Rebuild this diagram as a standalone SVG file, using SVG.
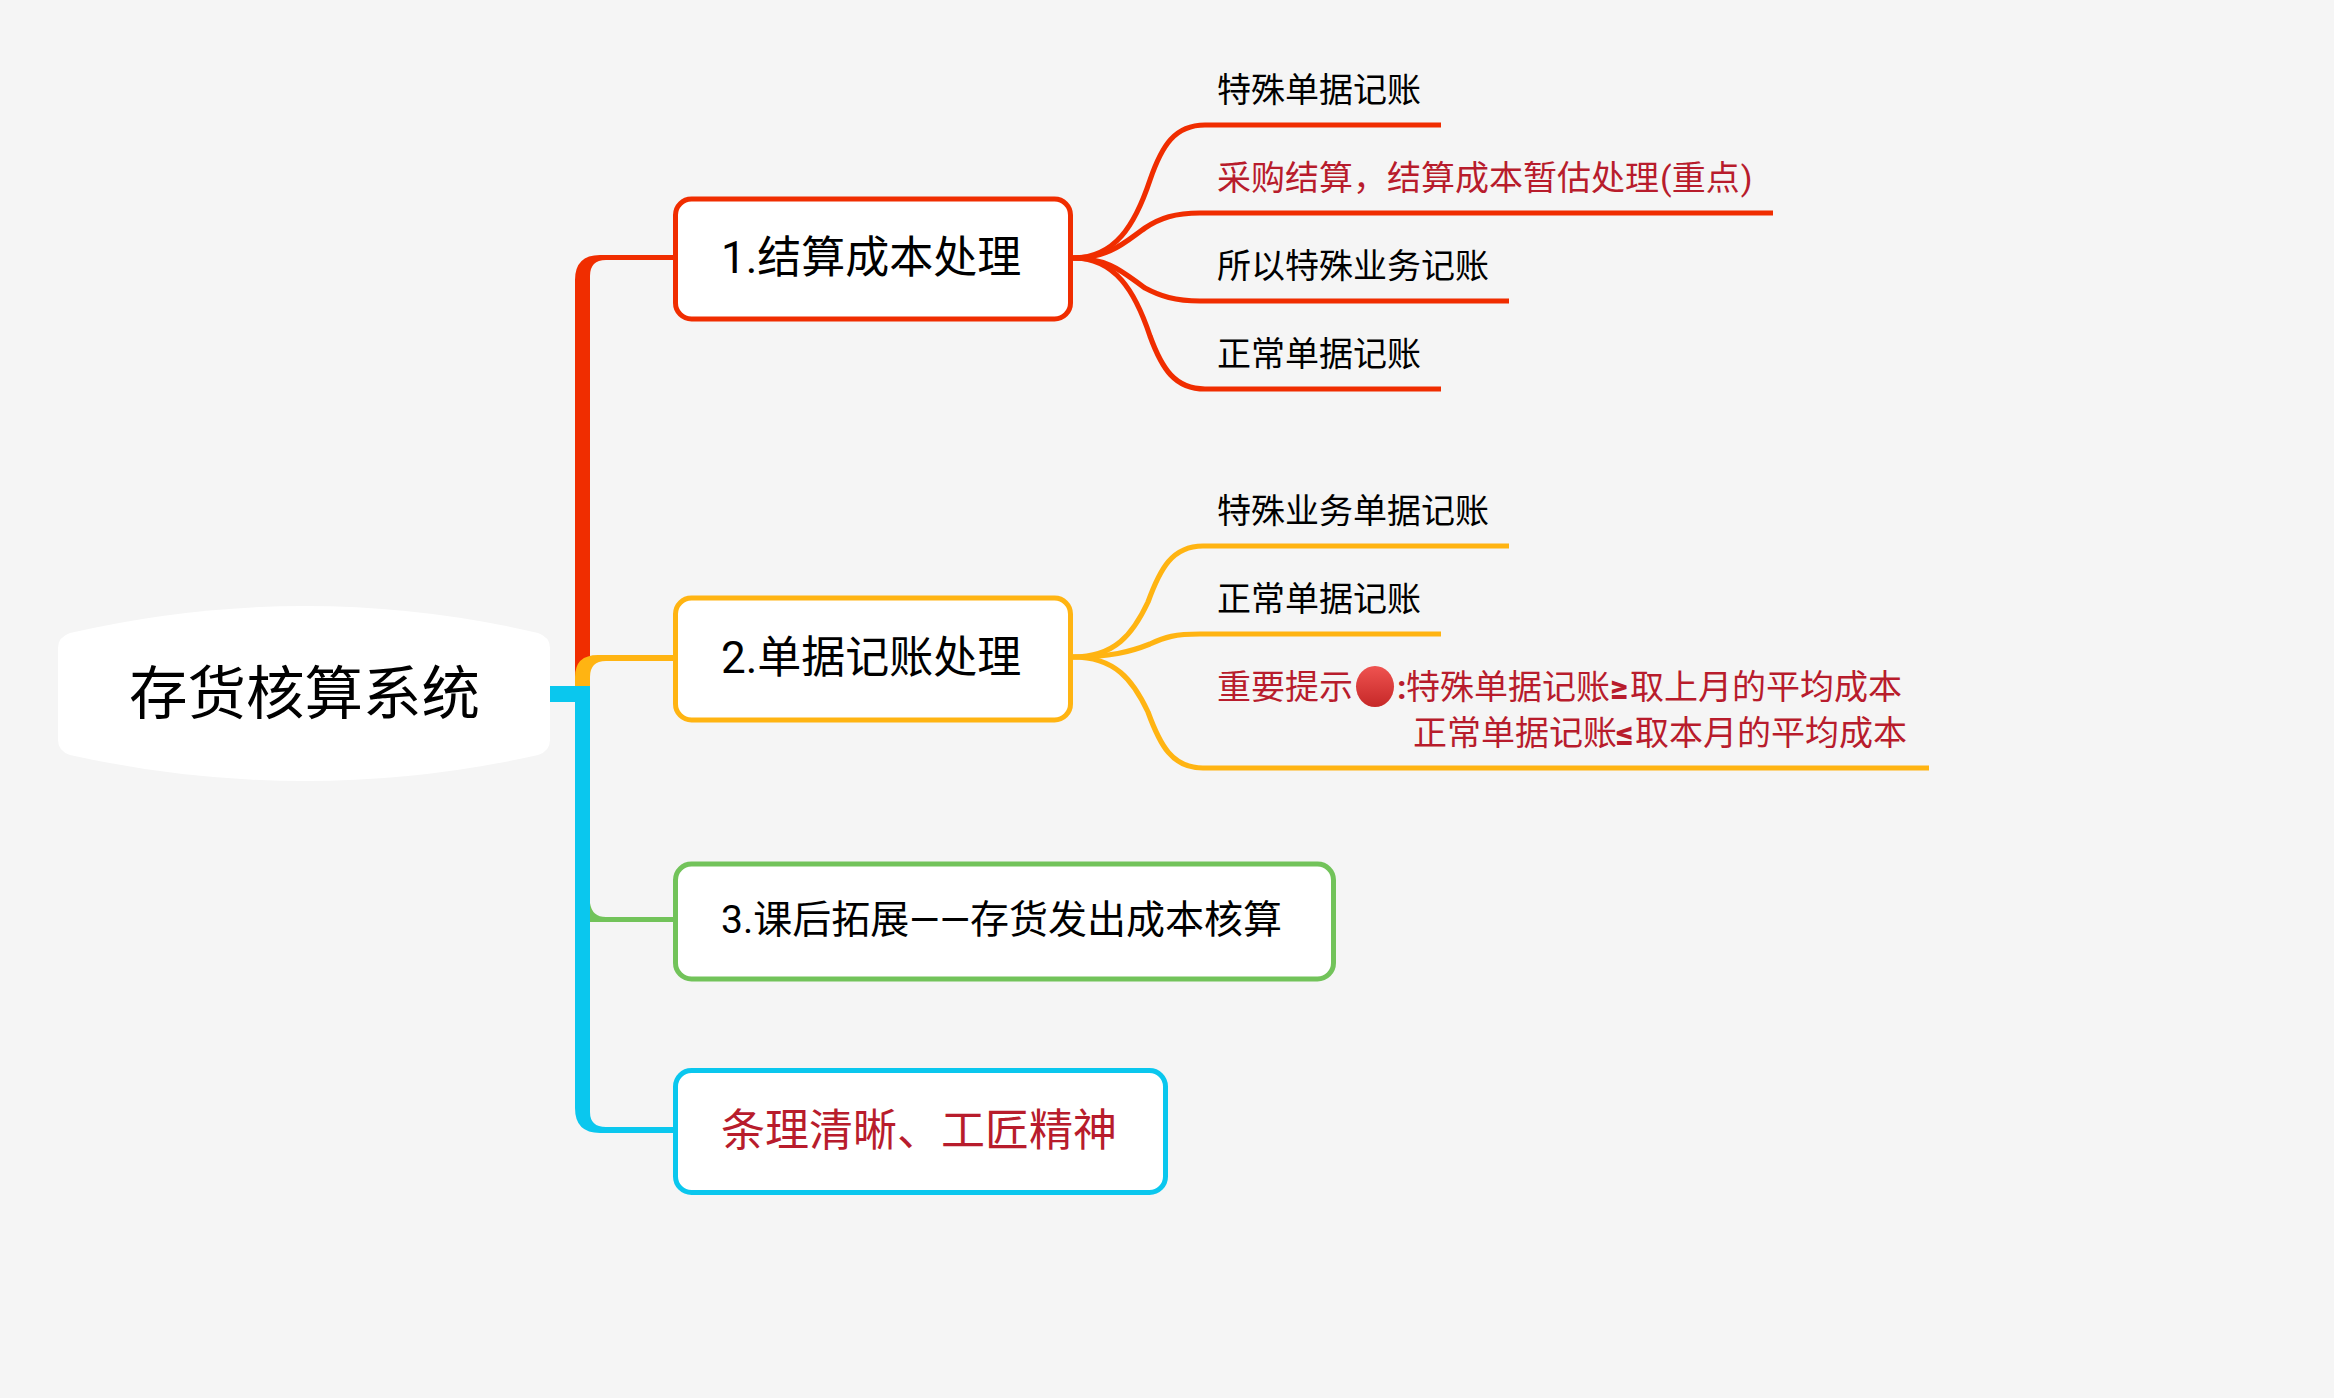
<svg xmlns="http://www.w3.org/2000/svg" width="2334" height="1398" viewBox="0 0 2334 1398">
<defs>
<linearGradient id="dot" x1="0" y1="0" x2="0" y2="1"><stop offset="0" stop-color="#EF5350"/><stop offset="1" stop-color="#C62828"/></linearGradient>
</defs>
<style>
text{font-family:Roboto,"Noto Sans CJK SC",sans-serif;fill:#000}
.k{font-size:34px}
.t{font-size:44px}
.r{fill:#B81C2C}
.box{fill:#fff;stroke-width:5}
.c{fill:none;stroke-width:5.2}
.red{stroke:#F02D00}.ora{stroke:#FFB412}.gre{stroke:#72C35A}.cya{stroke:#0AC7EE}
</style>
<rect width="2334" height="1398" fill="#F5F5F5"/>
<g id="connectors">
<path d="M575 690V280Q575 255 600 255H675V260H606Q590 260 590 276V690Z" fill="#F02D00"/>
<path d="M575 690V677Q575 655 598 655H675V661H606Q590 661 590 677V690Z" fill="#FFB412"/>
<path d="M590 903Q592 917 606 917H675V922H590Z" fill="#72C35A"/>
<path d="M550 686H590V702H550Z" fill="#0AC7EE"/>
<path d="M575 686H590V1112Q590 1127 606 1127H675V1133H600Q575 1133 575 1108Z" fill="#0AC7EE"/>
<path d="M1073 258C1115 258 1135 225 1150 180C1162 145 1175 125 1205 125H1441" class="c red"/>
<path d="M1073 258C1110 258 1125 242 1145 228C1160 218 1175 213 1200 213H1773" class="c red"/>
<path d="M1073 258C1110 258 1125 274 1145 288C1160 296 1175 301 1200 301H1509" class="c red"/>
<path d="M1073 258C1115 258 1135 291 1150 336C1162 369 1175 389 1205 389H1441" class="c red"/>
<path d="M1073 657C1115 657 1133 634 1148 602C1160 569 1172 546 1203 546H1509" class="c ora"/>
<path d="M1073 657C1110 657 1130 652 1150 644C1165 637 1175 634 1200 634H1441" class="c ora"/>
<path d="M1073 657C1115 657 1133 680 1148 712C1160 745 1172 768 1203 768H1929" class="c ora"/>
</g>
<g id="root">
<path d="M58 648Q58 637 70 633Q187 606 305 606Q423 606 538 633Q550 637 550 648V740Q550 751 538 755Q423 781 305 781Q187 781 70 755Q58 751 58 740Z" fill="#fff"/>
<text x="304.500" y="714" text-anchor="middle" font-size="58.500">存货核算系统</text>
</g>
<g id="node1"><rect class="box red" x="675.5" y="199" width="395" height="120" rx="16"/><text class="t" x="721" y="273">1.结算成本处理</text></g>
<g id="node2"><rect class="box ora" x="675.5" y="598" width="395" height="122" rx="16"/><text class="t" x="721" y="672.500">2.单据记账处理</text></g>
<g id="node3"><rect class="box gre" x="675.5" y="864" width="658" height="115" rx="16"/><text x="721" y="933" font-size="39">3.课后拓展——存货发出成本核算</text></g>
<g id="node4"><rect class="box cya" x="675.5" y="1070.500" width="490" height="122" rx="16"/><text class="t r" x="721" y="1145.500">条理清晰、工匠精神</text></g>
<g id="n1a"><text class="k" x="1217" y="101.500">特殊单据记账</text></g>
<g id="n1b"><text class="k r" x="1217" y="189.500">采购结算，结算成本暂估处理<tspan dx="1">(</tspan>重点<tspan dx="1">)</tspan></text></g>
<g id="n1c"><text class="k" x="1217" y="277.500">所以特殊业务记账</text></g>
<g id="n1d"><text class="k" x="1217" y="365.500">正常单据记账</text></g>
<g id="n2a"><text class="k" x="1217" y="522.500">特殊业务单据记账</text></g>
<g id="n2b"><text class="k" x="1217" y="610.500">正常单据记账</text></g>
<g id="n2c">
<text class="k r" x="1217" y="699">重要提示</text>
<ellipse cx="1375" cy="686.500" rx="19" ry="20.500" fill="url(#dot)"/>
<text class="k r" x="1397" y="699" font-weight="700">:</text>
<text class="k r" x="1406" y="699">特殊单据记账</text>
<text class="k r" x="1610" y="699" font-weight="900" font-size="37">≥</text>
<text class="k r" x="1630" y="699">取上月的平均成本</text>
<text class="k r" x="1413" y="745">正常单据记账</text>
<text class="k r" x="1616" y="745" font-weight="900" font-size="37">≤</text>
<text class="k r" x="1635" y="745">取本月的平均成本</text>
</g>
</svg>
